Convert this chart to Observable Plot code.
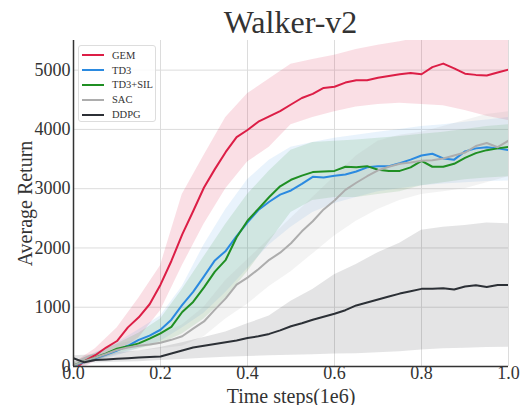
<!DOCTYPE html>
<html>
<head>
<meta charset="utf-8">
<script src="https://cdn.jsdelivr.net/npm/d3@7"></script>
<script src="https://cdn.jsdelivr.net/npm/@observablehq/plot@0.6"></script>
<style>
  html, body { margin: 0; padding: 0; background: #fff; }
  #wrap { position: relative; width: 520px; height: 405px; font-family: "Liberation Serif", "DejaVu Serif", serif; }
  #title { height: 40px; box-sizing: border-box; padding-top: 4px; padding-left: 73px; width: 520px; padding-right: 12px;
           text-align: center; font-size: 32px; line-height: 36px; color: #333; }
  #legend { position: absolute; left: 78px; top: 45px; width: 78px; height: 77px; border: 1px solid #ddd; border-radius: 3px;
            background: rgba(255,255,255,0.85); box-sizing: border-box; padding-top: 2px; }
  .row { height: 14.8px; display: flex; align-items: center; font-size: 10.5px; color: #333; }
  .sw { width: 22px; height: 2px; margin-left: 3px; margin-right: 8px; }
  svg g[aria-label="x-axis label"] text, svg g[aria-label="y-axis label"] text { font-size: 20px; }
</style>
</head>
<body>
<div id="wrap">
  <div id="title">Walker-v2</div>
  <div id="chart"></div>
  <div id="legend"></div>
</div>
<script>
// ---- data ----
const names = ["GEM", "TD3", "TD3+SIL", "SAC", "DDPG"];
const colors = ["#dc1e46", "#2b8ae0", "#1f8f23", "#adadad", "#2c3036"];
const bandOpacity = [0.14, 0.1, 0.12, 0.14, 0.13];
const xTicks = [0, 0.2, 0.4, 0.6, 0.8, 1.0];
const yTicks = [0, 1000, 2000, 3000, 4000, 5000];

// x positions of the mean curves (every 0.025) and of the band edges (every 0.05)
const steps = [0, 0.025, 0.05, 0.075, 0.1, 0.125, 0.15, 0.175, 0.2, 0.225, 0.25, 0.275, 0.3, 0.325, 0.35, 0.375, 0.4, 0.425, 0.45, 0.475, 0.5,
               0.525, 0.55, 0.575, 0.6, 0.625, 0.65, 0.675, 0.7, 0.725, 0.75, 0.775, 0.8, 0.825, 0.85, 0.875, 0.9, 0.925, 0.95, 0.975, 1.0];
const bandSteps = [0, 0.05, 0.1, 0.15, 0.2, 0.25, 0.3, 0.35, 0.4, 0.45, 0.5, 0.55, 0.6, 0.65, 0.7, 0.75, 0.8, 0.85, 0.9, 0.95, 1.0];

const gemMean = [-60, 90, 190, 320, 430, 660, 830, 1050, 1380, 1780, 2230, 2620, 3020, 3330, 3620, 3870, 3990, 4130, 4220, 4310, 4420,
                 4530, 4600, 4700, 4720, 4790, 4830, 4830, 4870, 4900, 4930, 4950, 4930, 5050, 5110, 5030, 4940, 4920, 4910, 4960, 5010];
const td3Mean = [10, 80, 140, 200, 270, 350, 450, 520, 620, 790, 1040, 1260, 1520, 1790, 1950, 2200, 2430, 2640, 2780, 2900, 2970,
                 3080, 3200, 3190, 3220, 3240, 3290, 3360, 3380, 3380, 3430, 3490, 3560, 3590, 3510, 3490, 3630, 3680, 3700, 3680, 3650];
const silMean = [20, 90, 150, 220, 300, 340, 390, 470, 560, 670, 920, 1090, 1335, 1600, 1800, 2180, 2460, 2660, 2860, 3040, 3150,
                 3220, 3280, 3290, 3300, 3370, 3360, 3380, 3320, 3300, 3300, 3360, 3470, 3370, 3370, 3420, 3520, 3600, 3650, 3680, 3705];
const sacMean = [20, 90, 150, 210, 280, 320, 350, 370, 400, 450, 510, 640, 760, 960, 1150, 1380, 1500, 1640, 1800, 1920, 2080,
                 2280, 2450, 2650, 2800, 2980, 3100, 3210, 3310, 3370, 3420, 3440, 3470, 3480, 3510, 3560, 3610, 3720, 3770, 3700, 3810];
const ddpgMean = [140, 70, 110, 120, 130, 140, 150, 160, 170, 220, 270, 320, 350, 380, 410, 440, 480, 510, 550, 610, 680,
                  730, 790, 840, 890, 950, 1030, 1080, 1130, 1180, 1230, 1270, 1310, 1310, 1320, 1300, 1350, 1370, 1340, 1375, 1375];

const gemLow  = [-100, 80, 250, 480, 940, 1700, 2400, 3000, 3450, 3700, 4080, 4200, 4300, 4380, 4420, 4440, 4420, 4400, 4320, 4220, 4150];
const gemHigh = [50, 300, 650, 1150, 1700, 2900, 3560, 4200, 4600, 4850, 5100, 5180, 5250, 5350, 5420, 5480, 5550, 5650, 5650, 5650, 5700];
const td3Low  = [-50, 80, 180, 300, 420, 650, 900, 1250, 1650, 2050, 2350, 2600, 2750, 2850, 2950, 3000, 3050, 3080, 3100, 3120, 3130];
const td3High = [60, 230, 400, 620, 850, 1350, 2050, 2650, 3150, 3480, 3700, 3780, 3850, 3900, 3950, 4000, 4050, 4080, 4120, 4160, 4200];
const silLow  = [-30, 90, 220, 300, 380, 550, 800, 1150, 1600, 2100, 2600, 2800, 2850, 2850, 2900, 2950, 3050, 3100, 3150, 3180, 3200];
const silHigh = [70, 220, 380, 560, 800, 1300, 1850, 2400, 2900, 3300, 3650, 3780, 3800, 3820, 3850, 3880, 3920, 3950, 4000, 4050, 4080];
const sacLow  = [-20, 100, 200, 260, 300, 340, 500, 800, 1050, 1350, 1600, 1900, 2200, 2450, 2650, 2800, 2900, 2950, 3000, 3100, 3200];
const sacHigh = [80, 220, 370, 450, 540, 700, 1000, 1450, 1800, 2150, 2500, 2850, 3200, 3550, 3800, 3900, 3950, 4050, 4150, 4250, 4300];
const ddpgLow  = [100, 60, 70, 80, 100, 120, 140, 155, 170, 180, 190, 200, 210, 215, 230, 250, 280, 300, 310, 320, 325];
const ddpgHigh = [180, 200, 230, 260, 320, 400, 490, 580, 720, 850, 1100, 1300, 1550, 1720, 1920, 2080, 2300, 2350, 2380, 2420, 2410];

const means = [gemMean, td3Mean, silMean, sacMean, ddpgMean];
const lows = [gemLow, td3Low, silLow, sacLow, ddpgLow];
const highs = [gemHigh, td3High, silHigh, sacHigh, ddpgHigh];

// ---- tables ----
const lineRows = names.flatMap((s, i) => steps.map((x, j) => ({series: s, x, y: means[i][j]})));
const bandRows = names.map((s, i) => bandSteps.map((x, j) => ({series: s, x, lo: lows[i][j], hi: highs[i][j]})));

const chart = Plot.plot({
  width: 520,
  height: 365,
  marginTop: 0,
  marginLeft: 73,
  marginRight: 12,
  marginBottom: 39,
  style: {fontFamily: '"Liberation Serif", "DejaVu Serif", serif', fontSize: "18px", color: "#333", background: "transparent", overflow: "visible"},
  x: {domain: [0, 1]},
  y: {domain: [0, 5500]},
  color: {domain: names, range: colors},
  marks: [
    Plot.gridX(xTicks, {stroke: "#dcdcdc", strokeOpacity: 1}),
    Plot.gridY(yTicks, {stroke: "#dcdcdc", strokeOpacity: 1}),
    ...bandRows.map((rows, i) => Plot.areaY(rows, {x: "x", y1: "lo", y2: "hi", fill: colors[i], fillOpacity: bandOpacity[i], clip: true})),
    Plot.line(lineRows, {x: "x", y: "y", z: "series", stroke: "series", strokeWidth: 2, clip: true}),
    Plot.axisX(xTicks, {tickSize: 0, tickPadding: 0, tickFormat: d3.format(".1f"), label: "Time steps(1e6)", labelAnchor: "center", labelArrow: "none", labelOffset: 36}),
    Plot.axisY(yTicks, {tickSize: 0, tickPadding: 3, tickFormat: d3.format("d"), label: "Average Return", labelAnchor: "center", labelArrow: "none", labelOffset: 56}),
    Plot.ruleX([0], {stroke: "#333", strokeWidth: 1.5}),
    Plot.ruleY([0], {stroke: "#333", strokeWidth: 1.5})
  ]
});
document.getElementById("chart").appendChild(chart);

// legend
const legend = document.getElementById("legend");
names.forEach((n, i) => {
  const row = document.createElement("div");
  row.className = "row";
  const sw = document.createElement("span");
  sw.className = "sw";
  sw.style.background = colors[i];
  const t = document.createElement("span");
  t.textContent = n;
  row.appendChild(sw); row.appendChild(t);
  legend.appendChild(row);
});
</script>
</body>
</html>
